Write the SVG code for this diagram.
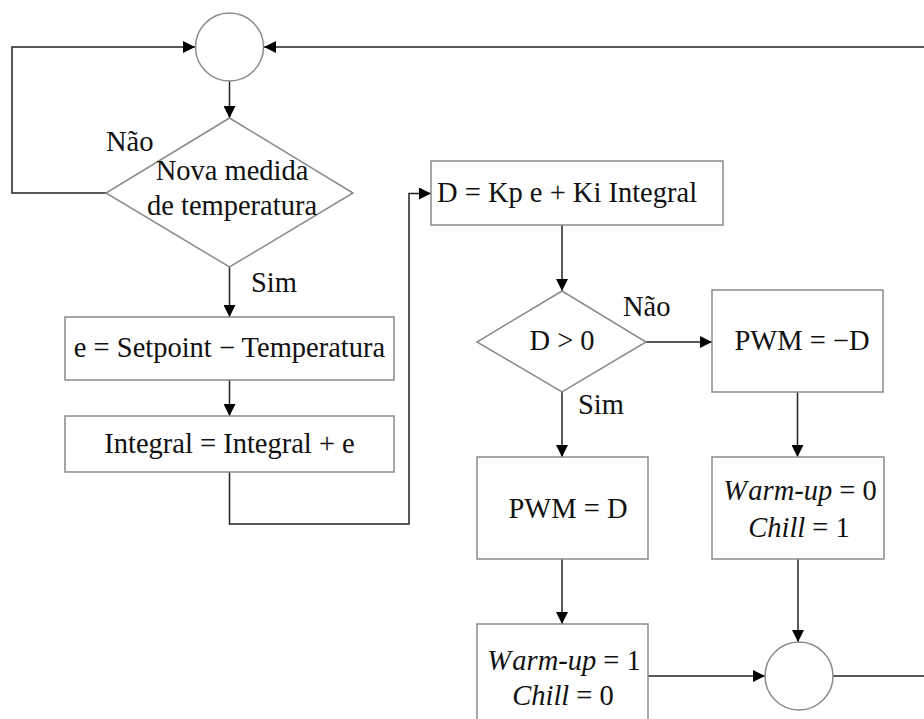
<svg xmlns="http://www.w3.org/2000/svg" width="924" height="719" viewBox="0 0 924 719">
<defs>
<marker id="ah" markerWidth="12" markerHeight="12" refX="12" refY="6" orient="auto" markerUnits="userSpaceOnUse">
<path d="M0,0 L12,6 L0,12 Z" fill="#000"/>
</marker>
<style>
.shape{fill:#fff;stroke:#8a8a8a;stroke-width:1.5}
.conn{fill:none;stroke:#222;stroke-width:1.5}
.t{font-family:"Liberation Serif","Times New Roman",serif;font-size:28.5px;fill:#111}
.m{text-anchor:middle}
.i{font-style:italic}
</style>
</defs>
<rect width="924" height="719" fill="#fff"/>
<g id="connectors">
<path class="conn" d="M106,193 H12 V47 H195" marker-end="url(#ah)"/>
<path class="conn" d="M924,47 H264" marker-end="url(#ah)"/>
<path class="conn" d="M229.5,81 V118" marker-end="url(#ah)"/>
<path class="conn" d="M229.5,267 V317" marker-end="url(#ah)"/>
<path class="conn" d="M229.5,380 V416" marker-end="url(#ah)"/>
<path class="conn" d="M229.5,472 V524 H409 V193.5 H431" marker-end="url(#ah)"/>
<path class="conn" d="M562,225 V291" marker-end="url(#ah)"/>
<path class="conn" d="M646,342 H712" marker-end="url(#ah)"/>
<path class="conn" d="M562,392 V457" marker-end="url(#ah)"/>
<path class="conn" d="M797.5,392 V457" marker-end="url(#ah)"/>
<path class="conn" d="M562,559 V624" marker-end="url(#ah)"/>
<path class="conn" d="M798,559 V642" marker-end="url(#ah)"/>
<path class="conn" d="M648,676 H765" marker-end="url(#ah)"/>
<path class="conn" d="M833,676 H924"/>
</g>
<g id="labels">
<text class="t" x="106" y="151">Não</text>
<text class="t" x="251" y="292">Sim</text>
<text class="t" x="623" y="316">Não</text>
<text class="t" x="578" y="414">Sim</text>
</g>
<g id="join-top">
<circle class="shape" cx="229.5" cy="47" r="34"/>
</g>
<g id="decision-medida">
<polygon class="shape" points="229.5,118 353,193 229.5,267 106,193"/>
<text class="t m" x="232" y="180">Nova medida</text>
<text class="t m" x="232" y="215">de temperatura</text>
</g>
<g id="box-erro">
<rect class="shape" x="65" y="317" width="329" height="63"/>
<text class="t m" x="229.5" y="357">e = Setpoint − Temperatura</text>
</g>
<g id="box-integral">
<rect class="shape" x="65" y="416" width="329" height="56"/>
<text class="t m" x="229.5" y="453">Integral = Integral + e</text>
</g>
<g id="box-d">
<rect class="shape" x="431" y="161" width="292" height="64"/>
<text class="t" x="437" y="202">D = Kp e + Ki Integral</text>
</g>
<g id="decision-d">
<polygon class="shape" points="562,291 646,342 562,392 477,342"/>
<text class="t m" x="562" y="350">D &gt; 0</text>
</g>
<g id="box-pwm-neg">
<rect class="shape" x="712" y="290" width="171" height="102"/>
<text class="t m" x="802" y="350">PWM = −D</text>
</g>
<g id="box-pwm-pos">
<rect class="shape" x="477" y="457" width="171" height="102"/>
<text class="t m" x="568" y="518">PWM = D</text>
</g>
<g id="box-chill">
<rect class="shape" x="712" y="457" width="172" height="102"/>
<text class="t m" x="800" y="500"><tspan class="i">W</tspan><tspan class="i" dx="4">arm-up</tspan> = 0</text>
<text class="t m" x="799" y="537"><tspan class="i">Chill</tspan> = 1</text>
</g>
<g id="box-warm">
<rect class="shape" x="477" y="624" width="171" height="110"/>
<text class="t m" x="564" y="670"><tspan class="i">W</tspan><tspan class="i" dx="4">arm-up</tspan> = 1</text>
<text class="t m" x="563" y="705"><tspan class="i">Chill</tspan> = 0</text>
</g>
<g id="join-bottom">
<circle class="shape" cx="799" cy="676" r="34"/>
</g>
</svg>
